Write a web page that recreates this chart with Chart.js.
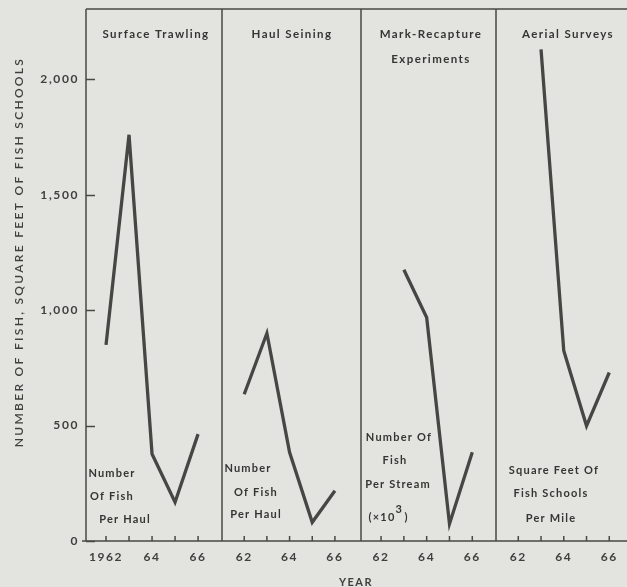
<!DOCTYPE html>
<html>
<head>
<meta charset="utf-8">
<script src="https://cdn.jsdelivr.net/npm/chart.js@4.4.0/dist/chart.umd.min.js"></script>
<style>
  html, body { margin: 0; padding: 0; background: #e3e3df; }
  #wrap { position: relative; width: 627px; height: 587px; overflow: hidden; }
  #wrap canvas { position: absolute; left: 0; top: 0; }
</style>
</head>
<body>
<div id="wrap">
  <canvas id="p0" width="627" height="587"></canvas>
  <canvas id="p1" width="627" height="587"></canvas>
  <canvas id="p2" width="627" height="587"></canvas>
  <canvas id="p3" width="627" height="587"></canvas>
</div>
<script>
// catch data by method, 1962-1966
const years = [1962, 1963, 1964, 1965, 1966];
const surfaceTrawling = [850, 1760, 377, 168, 463];
const haulSeining = [636, 900, 384, 81, 218];
const markRecapture = [null, 1175, 968, 74, 384];
const aerialSurveys = [null, 2130, 824, 499, 730];

const yTicks = [0, 500, 1000, 1500, 2000];
const panelTitles = [
  ['Surface Trawling'],
  ['Haul Seining'],
  ['Mark-Recapture', 'Experiments'],
  ['Aerial Surveys']
];
const unitNotes = [
  ['Number', 'Of Fish', 'Per Haul'],
  ['Number', 'Of Fish', 'Per Haul'],
  ['Number Of', 'Fish', 'Per Stream', '(×10'],
  ['Square Feet Of', 'Fish Schools', 'Per Mile']
];
const yTitle = 'NUMBER OF FISH, SQUARE FEET OF FISH SCHOOLS';
const xTitle = 'YEAR';

// layout
const W = 627;
const INK = '#3f3f3d';
const panelEdges = [[86, 222], [222, 361], [361, 496], [496, 627]];
const xRanges = [[1961.13, 1967.04], [1961.02, 1967.15], [1961.12, 1967.04], [1961.02, 1966.78]];
const titleCenters = [156, 292, 431, 568];
// note placement: [centerX, baselineY] per line
const notePos = [
  [[112, 477], [112, 500], [125, 523]],
  [[248, 472], [256, 496], [256, 518]],
  [[399, 441], [395, 464], [398, 488], [382, 521]],
  [[554, 474], [551, 497], [551, 522]]
];

function setFont(ctx, size, weight, spacing) {
  ctx.font = weight + ' ' + size + 'px Lato, "DejaVu Sans", sans-serif';
  ctx.letterSpacing = spacing + 'px';
}

function framePlugin(i) {
  return {
    id: 'frame' + i,
    beforeDraw(chart) {
      chart.ctx.letterSpacing = '1.6px';
    },
    afterDraw(chart) {
      const ctx = chart.ctx;
      const a = chart.chartArea;
      const xs = chart.scales.x;
      const ys = chart.scales.y;
      ctx.save();
      ctx.strokeStyle = '#484846';
      ctx.lineWidth = 1.5;
      ctx.lineCap = 'butt';

      // panel box: left side, top and baseline
      ctx.beginPath();
      ctx.moveTo(a.left, a.bottom);
      ctx.lineTo(a.left, a.top);
      ctx.moveTo(a.left, a.top);
      ctx.lineTo(a.right, a.top);
      ctx.moveTo(a.left - (i === 0 ? 4 : 0), a.bottom);
      ctx.lineTo(a.right, a.bottom);
      ctx.stroke();

      // year ticks pointing up from the baseline
      ctx.beginPath();
      years.forEach(yr => {
        const px = xs.getPixelForValue(yr);
        ctx.moveTo(px, a.bottom);
        ctx.lineTo(px, a.bottom - 5);
      });
      ctx.stroke();

      // value ticks pointing into the first panel
      if (i === 0) {
        ctx.beginPath();
        yTicks.forEach(v => {
          const py = Math.round(ys.getPixelForValue(v)) + 0.5;
          ctx.moveTo(a.left, py);
          ctx.lineTo(a.left + 9, py);
        });
        ctx.stroke();
      }

      ctx.fillStyle = '#353533';
      ctx.textAlign = 'center';
      ctx.textBaseline = 'alphabetic';
      setFont(ctx, 11.5, 'bold', 1.4);
      panelTitles[i].forEach((t, k) => ctx.fillText(t, titleCenters[i], 38 + k * 25));

      setFont(ctx, 11, 'bold', 1.2);
      unitNotes[i].forEach((t, k) => {
        const p = notePos[i][k];
        ctx.fillText(t, p[0], p[1]);
        if (i === 2 && k === 3) {
          const w = ctx.measureText(t).width;
          ctx.textAlign = 'left';
          ctx.fillText('3', p[0] + w / 2, p[1] - 8);
          ctx.fillText(')', p[0] + w / 2 + 9, p[1]);
          ctx.textAlign = 'center';
        }
      });

      if (i === 0) {
        ctx.save();
        ctx.translate(19, 252);
        ctx.rotate(-Math.PI / 2);
        ctx.textBaseline = 'middle';
        ctx.fillStyle = INK;
        setFont(ctx, 12, '600', 2.3);
        ctx.fillText(yTitle, 0, 0);
        ctx.restore();
      }
      if (i === 1) {
        setFont(ctx, 11, 'bold', 1.5);
        ctx.fillStyle = INK;
        ctx.fillText(xTitle, 356, 586);
      }
      ctx.restore();
    }
  };
}

function makePanel(i, values) {
  const edge = panelEdges[i];
  const points = [];
  values.forEach((v, k) => { if (v !== null) points.push({ x: years[k], y: v }); });
  return new Chart(document.getElementById('p' + i), {
    type: 'line',
    data: {
      datasets: [{
        data: points,
        borderColor: '#464644',
        borderWidth: 3.3,
        borderJoinStyle: 'miter',
        pointRadius: 0,
        tension: 0,
        fill: false
      }]
    },
    options: {
      responsive: false,
      animation: false,
      events: [],
      layout: { padding: { left: i === 0 ? 0 : edge[0], right: W - edge[1], top: 9, bottom: 0 } },
      plugins: { legend: { display: false }, tooltip: { enabled: false } },
      scales: {
        x: {
          type: 'linear',
          min: xRanges[i][0],
          max: xRanges[i][1],
          afterBuildTicks: s => { s.ticks = years.map(v => ({ value: v })); },
          afterFit: s => {
            s.height = 46;
            s.paddingLeft = 0;
            s.paddingRight = 0;
          },
          grid: { display: false, drawTicks: false },
          border: { display: false },
          ticks: {
            padding: 9,
            color: INK,
            maxRotation: 0,
            autoSkip: false,
            font: { family: 'Lato', size: 12, weight: 'bold' },
            callback: v => {
              if (v % 2 !== 0) return '';
              return (i === 0 && v === 1962) ? '1962' : String(v).slice(2);
            }
          }
        },
        y: {
          min: 0,
          max: 2305,
          display: i === 0,
          afterBuildTicks: s => { s.ticks = yTicks.map(v => ({ value: v })); },
          afterFit: s => {
            s.width = i === 0 ? 86 : 0;
            s.paddingTop = 0;
            s.paddingBottom = 0;
          },
          grid: { display: false, drawTicks: false },
          border: { display: false },
          ticks: {
            padding: 7,
            color: INK,
            font: { family: 'Lato', size: 12, weight: 'bold' },
            callback: v => v.toLocaleString('en-US')
          }
        }
      }
    },
    plugins: [framePlugin(i)]
  });
}

makePanel(0, surfaceTrawling);
makePanel(1, haulSeining);
makePanel(2, markRecapture);
makePanel(3, aerialSurveys);
</script>
</body>
</html>
